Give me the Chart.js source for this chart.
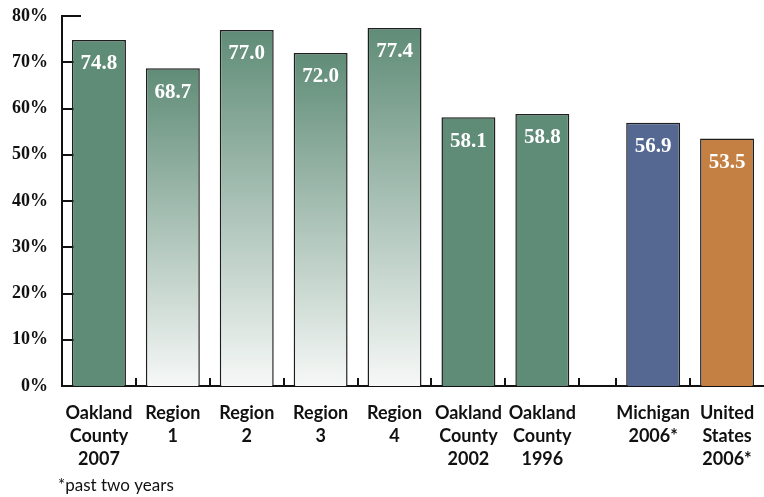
<!DOCTYPE html>
<html>
<head>
<meta charset="utf-8">
<script src="https://cdn.jsdelivr.net/npm/chart.js@4.4.1/dist/chart.umd.min.js"></script>
<style>
  html, body { margin: 0; padding: 0; background: #ffffff; }
  #wrap { width: 764px; height: 497px; position: relative; }
</style>
</head>
<body>
<div id="wrap"><canvas id="c"></canvas></div>
<script>
// Categories (each label split into display lines)
const categories = [
  ['Oakland', 'County', '2007'],
  ['Region', '1'],
  ['Region', '2'],
  ['Region', '3'],
  ['Region', '4'],
  ['Oakland', 'County', '2002'],
  ['Oakland', 'County', '1996'],
  ['Michigan', '2006*'],
  ['United', 'States', '2006*']
];

// Percentages shown on each bar
const values = [74.8, 68.7, 77.0, 72.0, 77.4, 58.1, 58.8, 56.9, 53.5];

// Y axis ticks
const yTicks = [0, 10, 20, 30, 40, 50, 60, 70, 80];

const footnote = '*past two years';

// Fill style per bar: solid county green, faded regional green, state blue, national orange
const barFills = ['solid', 'fade', 'fade', 'fade', 'fade', 'solid', 'solid', 'state', 'nation'];
const COLORS = {
  solid: '#5f8c77',
  fadeTop: '#5f8c77',
  fadeBottom: '#f6f8f7',
  state: '#546891',
  nation: '#c47f42'
};

// Michigan and United States sit after a half-slot gap
const groupBreak = 7;
const slotPositions = categories.map((_, i) => i + (i >= groupBreak ? 0.5 : 0));
// Boundaries between neighbouring slots, marked with short ticks on the base line
const boundaries = [];
for (let i = 0; i < slotPositions.length - 1; i++) {
  if (i + 1 === groupBreak) {
    boundaries.push(slotPositions[i] + 0.5, slotPositions[i + 1] - 0.5);
  } else {
    boundaries.push((slotPositions[i] + slotPositions[i + 1]) / 2);
  }
}

function barColor(ctx) {
  const kind = barFills[ctx.dataIndex];
  if (kind !== 'fade') return COLORS[kind];
  const chart = ctx.chart;
  const yScale = chart.scales.y;
  if (!chart.chartArea || !yScale) return COLORS.solid;
  const v = values[ctx.dataIndex];
  const top = yScale.getPixelForValue(v);
  const bottom = yScale.getPixelForValue(0);
  const g = chart.ctx.createLinearGradient(0, top, 0, bottom);
  g.addColorStop(0, COLORS.fadeTop);
  g.addColorStop(1, COLORS.fadeBottom);
  return g;
}

// Inward tick marks on both axes, drawn behind the bars
const axisTicks = {
  id: 'axisTicks',
  beforeDatasetsDraw(chart) {
    const { ctx, scales: { x, y } } = chart;
    ctx.save();
    ctx.strokeStyle = '#111';
    ctx.lineWidth = 2;
    const x0 = x.getPixelForValue(x.min);
    yTicks.forEach(t => {
      if (t === 0) return;
      const py = Math.round(y.getPixelForValue(t));
      ctx.beginPath();
      ctx.moveTo(x0, py);
      ctx.lineTo(x0 + 19, py);
      ctx.stroke();
    });
    const base = y.getPixelForValue(0);
    boundaries.forEach(b => {
      const px = Math.round(x.getPixelForValue(b));
      ctx.beginPath();
      ctx.moveTo(px, base);
      ctx.lineTo(px, base - 8);
      ctx.stroke();
    });
    ctx.restore();
  }
};

// Value labels inside the top of each bar, plus the footnote
const barLabels = {
  id: 'barLabels',
  afterDatasetsDraw(chart) {
    const { ctx } = chart;
    const meta = chart.getDatasetMeta(0);
    ctx.save();
    ctx.fillStyle = '#ffffff';
    ctx.font = 'bold 21px "Liberation Serif", "Times New Roman", serif';
    ctx.textAlign = 'center';
    ctx.textBaseline = 'middle';
    meta.data.forEach((bar, i) => {
      ctx.fillText(values[i].toFixed(1), bar.x, bar.y + 24);
    });
    ctx.restore();
  },
  afterDraw(chart) {
    const { ctx } = chart;
    ctx.save();
    ctx.fillStyle = '#111';
    ctx.font = '17px Lato, "Open Sans", sans-serif';
    ctx.textAlign = 'left';
    ctx.textBaseline = 'middle';
    ctx.fillText(footnote, 58, 486);
    ctx.restore();
  }
};

new Chart(document.getElementById('c'), {
  type: 'bar',
  data: {
    datasets: [{
      data: values.map((v, i) => ({ x: slotPositions[i], y: v })),
      backgroundColor: barColor,
      borderColor: '#1e1e1e',
      borderWidth: 1.5,
      borderSkipped: 'bottom',
      categoryPercentage: 1,
      barPercentage: 0.73
    }]
  },
  options: {
    responsive: true,
    maintainAspectRatio: false,
    animation: false,
    layout: { padding: { left: 0, right: 0, top: 16, bottom: 25 } },
    plugins: {
      legend: { display: false },
      tooltip: { enabled: false }
    },
    scales: {
      x: {
        type: 'linear',
        offset: false,
        min: -0.5,
        max: slotPositions[slotPositions.length - 1] + 0.5,
        afterBuildTicks(scale) {
          scale.ticks = slotPositions.map(v => ({ value: v }));
        },
        afterFit(scale) {
          scale.height = 86;
          scale.paddingLeft = 0;
          scale.paddingRight = 0;
        },
        grid: { display: false, drawTicks: false },
        border: { display: true, color: '#111', width: 2 },
        ticks: {
          autoSkip: false,
          maxRotation: 0,
          padding: 15,
          color: '#111',
          font: { family: 'Lato, "Open Sans", sans-serif', size: 18, weight: 'bold', lineHeight: 1.3 },
          callback(value) {
            const i = slotPositions.indexOf(value);
            return i >= 0 ? categories[i] : '';
          }
        }
      },
      y: {
        min: 0,
        max: 80,
        afterBuildTicks(scale) {
          scale.ticks = yTicks.map(v => ({ value: v }));
        },
        afterFit(scale) {
          scale.width = 62;
          scale.paddingTop = 0;
          scale.paddingBottom = 0;
        },
        grid: { display: false, drawTicks: false },
        border: { display: true, color: '#111', width: 2 },
        ticks: {
          padding: 14,
          color: '#111',
          font: { family: '"Liberation Serif", "Times New Roman", serif', size: 18, weight: 'bold' },
          callback: v => v + '%'
        }
      }
    }
  },
  plugins: [axisTicks, barLabels]
});
</script>
</body>
</html>
